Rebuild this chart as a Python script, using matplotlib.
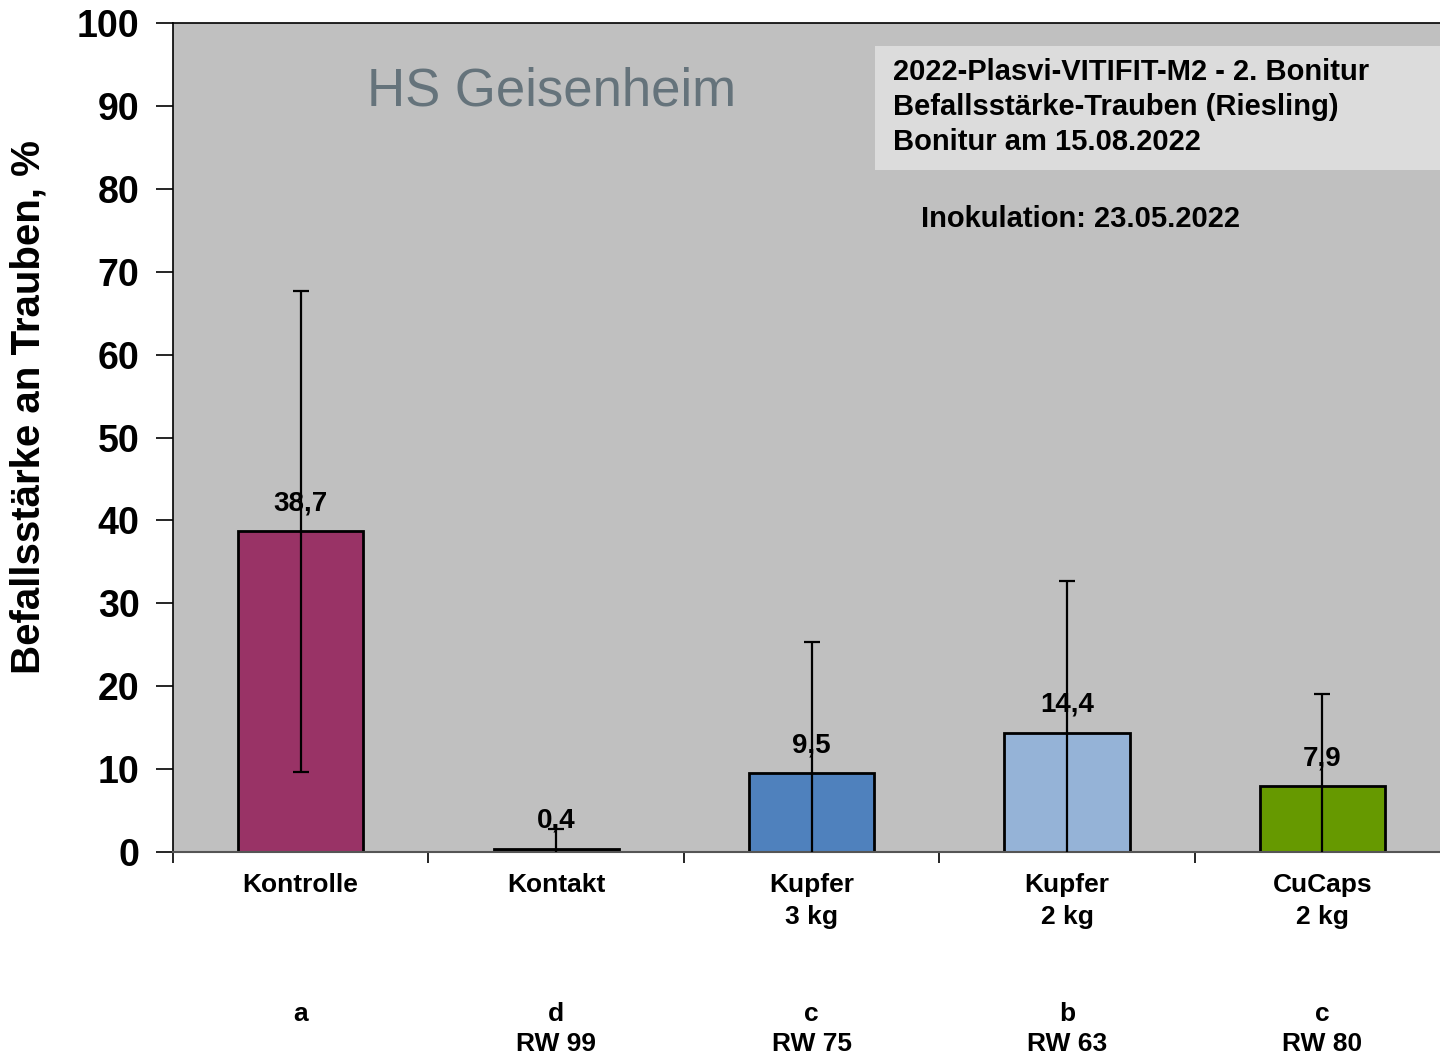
import numpy as np
import matplotlib
matplotlib.use("Agg")
import matplotlib.pyplot as plt
from matplotlib.ticker import FixedLocator
from matplotlib.patches import Rectangle

plt.rcParams['font.family'] = ['Liberation Sans', 'DejaVu Sans']

# data
categories = ["Kontrolle", "Kontakt", "Kupfer\n3 kg", "Kupfer\n2 kg", "CuCaps\n2 kg"]
values = [38.7, 0.4, 9.5, 14.4, 7.9]
errors = [29.0, 2.4, 15.8, 18.3, 11.2]
value_labels = ["38,7", "0,4", "9,5", "14,4", "7,9"]
letters = ["a", "d", "c", "b", "c"]
rw_labels = ["", "RW 99", "RW 75", "RW 63", "RW 80"]
bar_colors = ["#993366", "#000000", "#4f81bd", "#95b3d7", "#669900"]
y_ticks = list(range(0, 101, 10))
title_lines = ["2022-Plasvi-VITIFIT-M2 - 2. Bonitur",
               "Befallsstärke-Trauben (Riesling)",
               "Bonitur am 15.08.2022"]

fig = plt.figure(figsize=(14.4, 10.56), dpi=100)
ax = fig.add_axes([0.1201, 0.1932, 0.8799, 0.785])
ax.set_facecolor("#c0c0c0")

x = np.arange(len(categories))
ax.bar(x, values, width=0.49, color=bar_colors, edgecolor="black", linewidth=2, zorder=2)
ax.errorbar(x, values, yerr=errors, fmt="none", ecolor="black", elinewidth=1.6,
            capsize=6, capthick=1.6, zorder=3)

for xi, v, lab in zip(x, values, value_labels):
    ax.text(xi, v + 1.8, lab, ha="center", va="bottom", fontsize=20, fontweight="bold", zorder=4)

ax.set_xlim(-0.5, 4.46)
ax.set_ylim(0, 100)
ax.set_yticks(y_ticks)
ax.set_yticklabels([str(t) for t in y_ticks], fontsize=27, fontweight="bold")
ax.tick_params(axis="y", direction="out", length=12, width=1.2, pad=12)

ax.set_xticks(x)
ax.set_xticklabels(categories, fontsize=19, fontweight="bold", linespacing=1.45)
ax.tick_params(axis="x", which="major", length=0, pad=15)
ax.xaxis.set_minor_locator(FixedLocator(np.arange(-0.5, 4.5, 1.0)))
ax.tick_params(axis="x", which="minor", direction="out", length=8, width=1.2)

for xi, le, rw in zip(x, letters, rw_labels):
    ax.text(xi, -0.196, le, transform=ax.get_xaxis_transform(), ha="center", va="center",
            fontsize=19, fontweight="bold")
    if rw:
        ax.text(xi, -0.232, rw, transform=ax.get_xaxis_transform(), ha="center", va="center",
                fontsize=19, fontweight="bold")

ax.set_ylabel("Befallsstärke an Trauben, %", fontsize=29, fontweight="bold")
ax.yaxis.set_label_coords(-0.099, 0.537)

ax.spines["right"].set_visible(False)
ax.spines["top"].set_linewidth(1.2)
ax.spines["left"].set_linewidth(1.2)
ax.spines["bottom"].set_color("#555555")
ax.spines["bottom"].set_linewidth(1.5)

ax.text(0.299, 0.917, "HS Geisenheim", transform=ax.transAxes, ha="center", va="center",
        fontsize=38, color="#65737b")

ax.add_patch(Rectangle((0.554, 0.823), 0.446, 0.149, transform=ax.transAxes,
                       facecolor="#dcdcdc", edgecolor="none", zorder=1))
for ty, line in zip([0.941, 0.899, 0.857], title_lines):
    ax.text(0.568, ty, line, transform=ax.transAxes, ha="left", va="center",
            fontsize=21, fontweight="bold", zorder=2)

ax.text(0.5905, 0.764, "Inokulation: 23.05.2022", transform=ax.transAxes, ha="left",
        va="center", fontsize=21, fontweight="bold")

fig.savefig("out.png", dpi=100, facecolor="white")
